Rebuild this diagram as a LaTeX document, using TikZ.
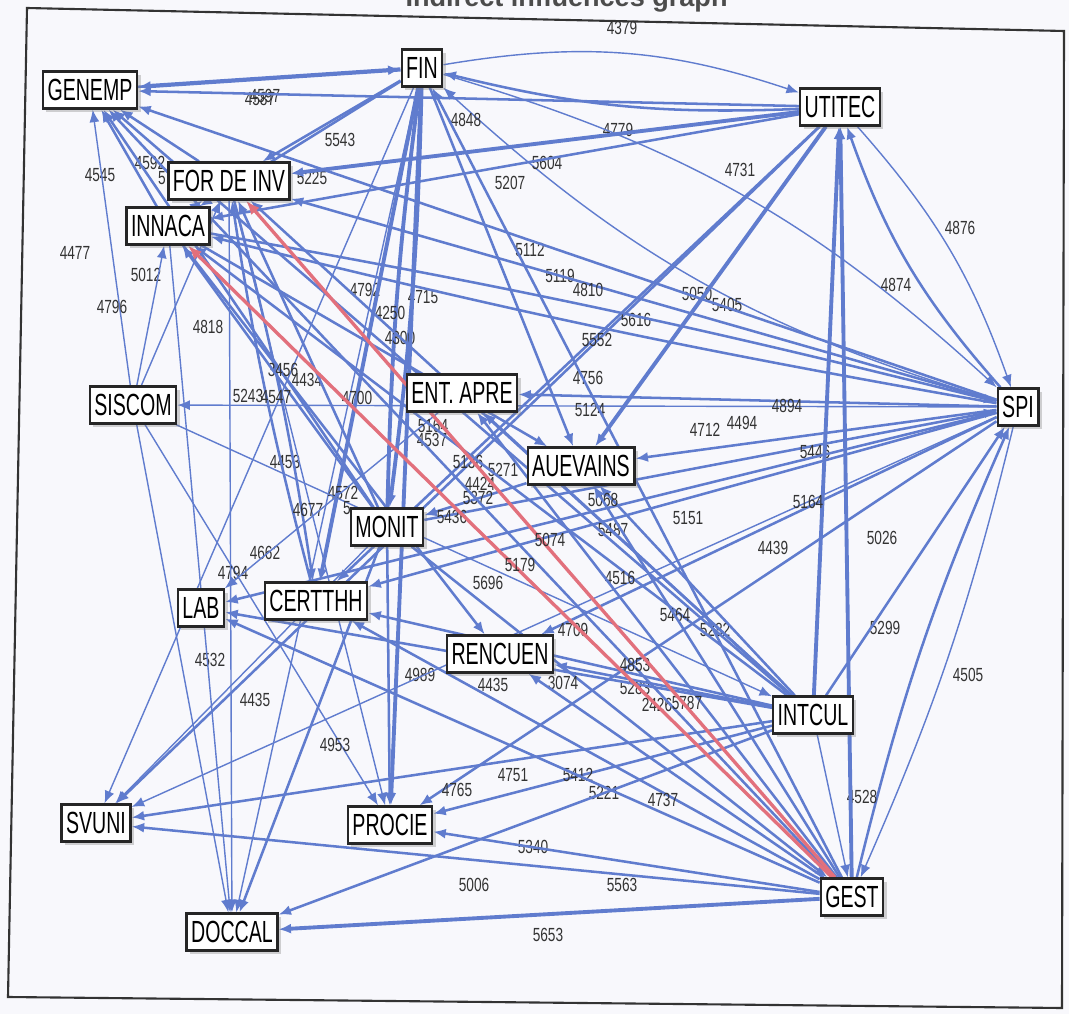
\documentclass[tikz,border=0pt]{standalone}
\usepackage{fontspec}
\setmainfont{Liberation Sans}
\newfontfamily\varfam{Liberation Sans}[FakeStretch=0.64]
\newfontfamily\valfam{Liberation Sans}[FakeStretch=0.72]
\usetikzlibrary{arrows.meta,shadows}
\definecolor{edgeblue}{RGB}{96,124,206}
\definecolor{edgered}{RGB}{226,112,124}
\definecolor{paper}{RGB}{248,248,252}
\pgfdeclarelayer{paperlayer}
\pgfdeclarelayer{edgelayer}
\pgfsetlayers{paperlayer,edgelayer,main}
\tikzset{
  var/.style={draw=black!85, line width=0.65pt, fill=white,
    font=\varfam\fontsize{8.7pt}{9pt}\selectfont,
    inner xsep=1.3pt, inner ysep=0pt, minimum height=0.37cm,
    drop shadow={shadow xshift=0.035cm, shadow yshift=-0.035cm, opacity=0.35}},
  infl/.style={draw=edgeblue, line width=0.72pt, -{Latex[length=1.25mm,width=1mm]}},
  strong/.style={draw=edgered, line width=0.95pt, -{Latex[length=1.4mm,width=1.1mm]}},
  val/.style={font=\valfam\fontsize{5.4pt}{6pt}\selectfont, text=black!80, inner sep=0pt},
}
\begin{document}
\begin{tikzpicture}[x=0.01cm, y=0.01cm]
  \useasboundingbox (0,0) rectangle (1069,1014);
  \begin{pgfonlayer}{paperlayer}
    \fill[paper] (0,0) rectangle (1069,1014);
  \end{pgfonlayer}
  \node[anchor=base east, font=\bfseries\fontsize{7.7pt}{8pt}\selectfont, text=black!70] (title) at (740,1007) {Indirect influences graph};
  \draw[black!80, line width=0.6pt] (27,1006) -- (1064,983) -- (1062,6) -- (8,17) -- cycle;
  \draw
    (422,946) node[var] (fin) {FIN}
    (90,924) node[var] (genemp) {GENEMP}
    (840,907) node[var] (utitec) {UTITEC}
    (229,833) node[var] (forinv) {FOR DE INV}
    (168,788) node[var] (innaca) {INNACA}
    (133,609) node[var] (siscom) {SISCOM}
    (462,621) node[var] (entapre) {ENT. APRE}
    (1018,607) node[var] (spi) {SPI}
    (581,548) node[var] (auevains) {AUEVAINS}
    (387,487) node[var] (monit) {MONIT}
    (201,406) node[var] (lab) {LAB}
    (316,413) node[var] (certthh) {CERTTHH}
    (500,360) node[var] (rencuen) {RENCUEN}
    (813,299) node[var] (intcul) {INTCUL}
    (96,191) node[var] (svuni) {SVUNI}
    (390,189) node[var] (procie) {PROCIE}
    (852,117) node[var] (gest) {GEST}
    (232,82) node[var] (doccal) {DOCCAL};
  \begin{pgfonlayer}{edgelayer}
  \begin{scope}[infl]
    % FIN
    \draw[line width=1.2pt] (fin) to (genemp) node[val] at (260,915) {4587};
    \draw (genemp) to (fin) node[val] at (265,918) {4597};
    \draw[thin] (fin) to[bend left=14] (utitec) node[val] at (622,986) {4379};
    \draw (utitec) to[bend left=8] (fin) node[val] at (618,884) {4779};
    \draw (fin) to (forinv) node[val] at (340,874) {5543};
    \draw (fin) to (innaca) node[val] at (312,836) {5225};
    \draw[thin] (fin) to[bend left=13] (spi) node[val] at (740,844) {4731};
    \draw[thin] (spi) to[bend left=13] (fin) node[val] at (697,720) {5050};
    \draw[line width=1.1pt] (fin) to[bend left=3] (monit) node[val] at (423,717) {4715};
    \draw[line width=1.1pt] (monit) to[bend left=3] (fin) node[val] at (365,724) {4792};
    \draw[line width=1.1pt] (fin) to (certthh) node[val] at (400,676) {4300};
    \draw[line width=1.1pt] (fin) to (procie) node[val] at (432,574) {4537};
    \draw (fin) to (auevains) node[val] at (530,764) {5112};
    \draw[thin] (fin) to (svuni) node[val] at (285,552) {4453};
    \draw[thin] (fin) to (doccal) node[val] at (343,521) {4572};
    % UTITEC
    \draw (utitec) to (genemp) node[val] at (466,894) {4848};
    \draw[line width=1.1pt] (utitec) to (forinv) node[val] at (547,851) {5604};
    \draw (utitec) to (innaca) node[val] at (510,831) {5207};
    \draw[thin] (utitec) to[bend left=11] (spi) node[val] at (960,786) {4876};
    \draw (spi) to[bend left=11] (utitec) node[val] at (896,729) {4874};
    \draw[line width=1.1pt] (utitec) to (auevains) node[val] at (727,709) {5405};
    \draw (utitec) to (certthh) node[val] at (588,636) {4756};
    \draw (utitec) to (svuni) node[val] at (468,552) {5136};
    % left side
    \draw (forinv) to (genemp) node[val] at (150,851) {4592};
    \draw (innaca) to (forinv) node[val] at (162,836) {5};
    \draw (innaca) to (genemp) node[val] at (100,839) {4545};
    \draw[thin] (siscom) to (genemp) node[val] at (75,761) {4477};
    \draw[thin] (siscom) to (forinv) node[val] at (146,739) {5012};
    \draw[thin] (siscom) to (innaca) node[val] at (112,707) {4796};
    \draw[thin] (siscom) to (doccal) node[val] at (210,354) {4532};
    \draw[thin] (siscom) to (procie);
    \draw[thin] (siscom) to (intcul) node[val] at (488,431) {5696};
    \draw (innaca) to (auevains) node[val] at (390,701) {4250};
    \draw (innaca) to (rencuen) node[val] at (357,616) {4700};
    \draw[thin] (innaca) to (doccal) node[val] at (233,441) {4794};
    \draw (forinv) to[bend left=3] (certthh) node[val] at (307,634) {4434};
    \draw (certthh) to[bend left=3] (forinv) node[val] at (248,618) {5243};
    \draw[thin] (forinv) to (procie) node[val] at (308,504) {4677};
    \draw[thin] (forinv) to (doccal) node[val] at (265,461) {4662};
    % MONIT
    \draw (monit) to (genemp) node[val] at (208,687) {4818};
    \draw (monit) to (forinv) node[val] at (283,644) {3456};
    \draw (monit) to (innaca) node[val] at (276,617) {4547};
    \draw (monit) to (spi) node[val] at (705,584) {4712};
    \draw (monit) to (gest) node[val] at (635,326) {5283};
    \draw (monit) to (procie) node[val] at (420,339) {4989};
    \draw[thin] (monit) to (svuni) node[val] at (255,314) {4435};
    \draw (monit) to (doccal) node[val] at (335,269) {4953};
    \draw (auevains) to (monit) node[val] at (478,516) {5372};
    \draw[thin] (entapre) to (lab) node[val] at (347,506) {5};
    % SPI
    \draw (spi) to (genemp) node[val] at (560,738) {5119};
    \draw (spi) to (forinv) node[val] at (636,694) {5616};
    \draw (innaca) to[bend left=2] (spi) node[val] at (588,724) {4810};
    \draw (spi) to[bend left=2] (innaca) node[val] at (597,674) {5552};
    \draw[thin] (spi) to (siscom) node[val] at (590,604) {5124};
    \draw (spi) to (entapre) node[val] at (742,591) {4494};
    \draw (spi) to (auevains) node[val] at (815,562) {5446};
    \draw (spi) to (certthh) node[val] at (688,496) {5151};
    \draw (spi) to (lab) node[val] at (613,484) {5487};
    \draw (spi) to (rencuen) node[val] at (773,466) {4439};
    \draw[thin] (spi) to (svuni) node[val] at (573,384) {4709};
    \draw (spi) to (procie) node[val] at (715,384) {5282};
    \draw[thin] (spi) to[bend left=5] (gest) node[val] at (968,339) {4505};
    \draw (gest) to[bend left=5] (spi) node[val] at (885,386) {5299};
    % INTCUL
    \draw (intcul) to (genemp) node[val] at (433,588) {5164};
    \draw (intcul) to (forinv) node[val] at (503,544) {5271};
    \draw (intcul) to (innaca) node[val] at (480,530) {4424};
    \draw[line width=1.1pt] (intcul) to (utitec) node[val] at (787,608) {4894};
    \draw (intcul) to (spi) node[val] at (882,476) {5026};
    \draw (intcul) to (entapre) node[val] at (620,436) {4516};
    \draw (intcul) to (auevains) node[val] at (675,399) {5464};
    \draw (intcul) to (certthh) node[val] at (563,331) {3074};
    \draw (intcul) to (lab) node[val] at (493,329) {4435};
    \draw (intcul) to (rencuen) node[val] at (657,309) {2426};
    \draw (intcul) to (svuni) node[val] at (457,224) {4765};
    \draw (intcul) to (procie) node[val] at (604,221) {5221};
    \draw (intcul) to (doccal) node[val] at (533,167) {5340};
    \draw[thin] (intcul) to (gest) node[val] at (862,217) {4528};
    % GEST
    \draw (gest) to (genemp) node[val] at (452,497) {5436};
    \draw (gest) to (fin) node[val] at (603,514) {5068};
    \draw[line width=1.1pt] (gest) to (utitec) node[val] at (808,512) {5164};
    \draw (gest) to (entapre) node[val] at (635,349) {4853};
    \draw (gest) to (auevains) node[val] at (687,311) {5787};
    \draw (gest) to (certthh) node[val] at (578,239) {5412};
    \draw (gest) to (lab) node[val] at (513,239) {4751};
    \draw (gest) to (rencuen) node[val] at (663,214) {4737};
    \draw (gest) to (svuni) node[val] at (474,129) {5006};
    \draw (gest) to (procie) node[val] at (622,129) {5563};
    \draw[line width=1.1pt] (gest) to (doccal) node[val] at (548,79) {5653};
  \end{scope}
    \draw[strong] (gest) to (forinv) node[val] at (550,474) {5074};
    \draw[strong] (gest) to (innaca) node[val] at (520,449) {5179};
  \end{pgfonlayer}
\end{tikzpicture}
\end{document}
